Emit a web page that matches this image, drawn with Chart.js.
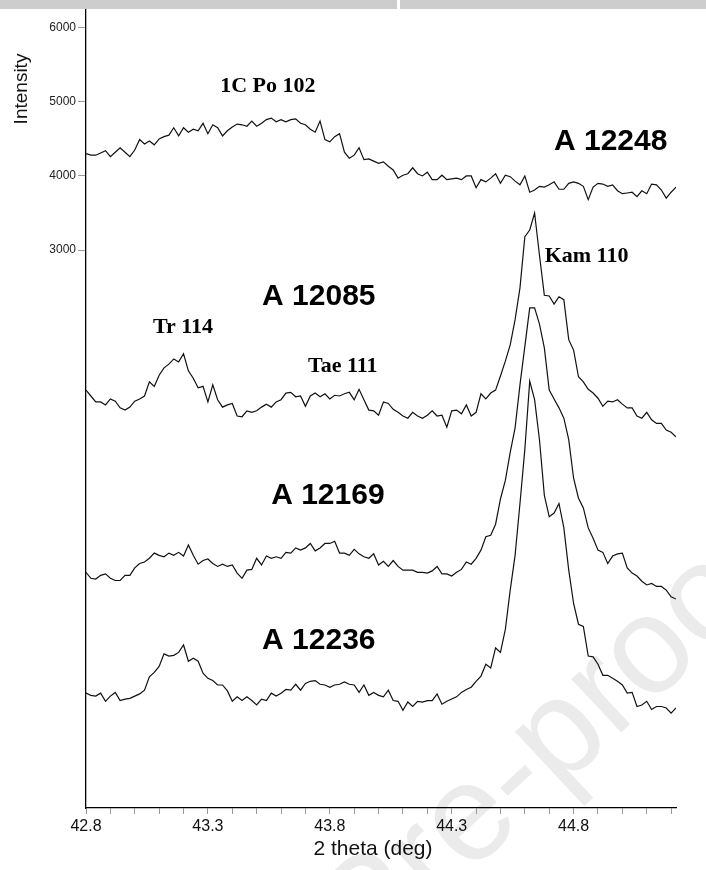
<!DOCTYPE html>
<html>
<head>
<meta charset="utf-8">
<title>XRD 2 theta</title>
<script src="https://cdn.jsdelivr.net/npm/chart.js@4.4.1/dist/chart.umd.min.js"></script>
<style>
  html, body { margin: 0; padding: 0; background: #fff; }
  #wrap { position: relative; width: 706px; height: 870px; overflow: hidden; }
  .bar { position: absolute; top: 0; height: 9px; background: #cdcdcd; }
  #watermark {
    position: absolute; left: 335px; top: 855px; width: 600px;
    font: 138px "Liberation Sans", Arial, sans-serif; color: #ebebeb;
    white-space: nowrap; transform: rotate(-43deg); transform-origin: 0 50%;
  }
  canvas { position: absolute; left: 0; top: 0; }
</style>
</head>
<body>
<div id="wrap">
  <div class="bar" style="left:0;width:397px"></div>
  <div class="bar" style="left:400px;width:306px"></div>
  <div id="watermark">Pre-proof</div>
  <canvas id="xrdChart" width="706" height="870"></canvas>
</div>
<script>
// 2 theta grid: 42.80 ... 45.22 deg, one step every 0.02 deg
const thetaStart = 42.8;
const thetaStep = 0.02;

// Intensities (offset for stacking), one value per grid step
const a12248 = [
  4300,4280,4280,4310,4340,4260,4320,4380,4320,4260,
  4350,4490,4430,4470,4420,4500,4530,4550,4650,4540,
  4650,4590,4630,4610,4710,4570,4690,4650,4540,4610,
  4660,4700,4690,4670,4740,4670,4710,4760,4780,4730,
  4760,4730,4760,4770,4710,4690,4630,4590,4740,4490,
  4460,4530,4570,4320,4240,4280,4380,4220,4230,4200,
  4170,4190,4130,4080,3970,4010,4030,4110,4030,4000,
  4050,3950,3950,4010,3950,3960,3970,3950,4000,4000,
  3840,3950,3920,3970,4030,3900,4010,3990,3930,3880,
  4000,3780,3810,3860,3850,3880,3920,3820,3820,3900,
  3920,3900,3860,3680,3850,3900,3890,3860,3880,3800,
  3760,3770,3780,3720,3800,3760,3890,3880,3810,3700,
  3780,3850
];

const a12085 = [
  1110,1030,950,950,910,990,960,870,840,880,
  960,990,1030,1220,1160,1310,1410,1460,1530,1490,
  1600,1370,1270,1140,1160,950,1180,980,880,910,
  930,760,750,830,810,830,880,920,880,950,
  980,1070,1080,1020,1030,890,1030,1070,1020,1060,
  990,1040,1030,1060,1080,980,1120,980,840,830,
  770,950,930,850,810,760,730,810,760,730,
  770,830,760,770,610,830,840,790,910,760,
  810,1060,990,1070,1110,1300,1500,1720,2060,2490,
  3180,3270,3500,2930,2390,2380,2270,2370,2330,1790,
  1650,1290,1220,1120,1070,1000,890,960,950,980,
  920,870,870,760,730,810,710,660,660,570,
  540,480
];

const a12169 = [
  -1350,-1430,-1440,-1390,-1370,-1430,-1460,-1460,-1390,-1390,
  -1290,-1230,-1210,-1160,-1090,-1120,-1140,-1090,-1120,-1080,
  -1130,-980,-1120,-1240,-1190,-1170,-1230,-1270,-1240,-1270,
  -1250,-1360,-1430,-1320,-1310,-1160,-1250,-1130,-1160,-1140,
  -1160,-1080,-1090,-1020,-1050,-1020,-960,-1060,-1020,-960,
  -960,-930,-1090,-1090,-1120,-1040,-1100,-1140,-1160,-1100,
  -1250,-1200,-1270,-1190,-1270,-1320,-1320,-1320,-1350,-1350,
  -1360,-1330,-1270,-1370,-1370,-1400,-1350,-1310,-1210,-1240,
  -1160,-1050,-870,-850,-700,-360,-110,270,600,1180,
  1700,2220,2220,2000,1680,1110,990,870,730,440,
  -80,-350,-480,-750,-890,-1050,-1080,-1230,-1130,-1100,
  -1090,-1290,-1360,-1400,-1470,-1520,-1500,-1540,-1540,-1590,
  -1680,-1710
];

const a12236 = [
  -2980,-3010,-3020,-2980,-3090,-3020,-2970,-3080,-3060,-3050,
  -3020,-2990,-2940,-2760,-2700,-2620,-2450,-2480,-2470,-2430,
  -2330,-2550,-2510,-2550,-2710,-2780,-2810,-2870,-2870,-2950,
  -3090,-3030,-3080,-3030,-3080,-3140,-3060,-3080,-2980,-3020,
  -2980,-2930,-2940,-2860,-2940,-2850,-2820,-2810,-2860,-2870,
  -2900,-2870,-2860,-2830,-2860,-2870,-2970,-2870,-3010,-2970,
  -3010,-3030,-2940,-3080,-3090,-3210,-3100,-3160,-3090,-3100,
  -3080,-3080,-2990,-3130,-3090,-3060,-3030,-2970,-2930,-2900,
  -2820,-2750,-2590,-2640,-2370,-2430,-2120,-1590,-1120,-420,
  310,1230,980,440,-310,-600,-550,-420,-750,-1320,
  -1770,-2050,-2080,-2480,-2490,-2590,-2740,-2740,-2780,-2820,
  -2870,-2980,-2970,-3160,-3140,-3090,-3200,-3160,-3160,-3180,
  -3250,-3180
];

// Tick values on the intensity axis
const intensityTicks = [3000, 4000, 5000, 6000];

// Text placed on the plot (theta, intensity)
const sampleLabels = [
  { text: "A 12248", theta: 44.952, value: 4460 },
  { text: "A 12085", theta: 43.755, value: 2370 },
  { text: "A 12169", theta: 43.792, value: -310 },
  { text: "A 12236", theta: 43.755, value: -2270 }
];
const peakLabels = [
  { text: "1C Po 102", theta: 43.546, value: 5210 },
  { text: "Tr 114", theta: 43.198, value: 1960 },
  { text: "Tae 111", theta: 43.853, value: 1430 },
  { text: "Kam 110", theta: 44.853, value: 2910 }
];

// Builds {x, y} points for one pattern
function toPoints(values) {
  return values.map((v, i) => ({ x: +(thetaStart + i * thetaStep).toFixed(2), y: v }));
}

function patternDataset(name, values) {
  return {
    label: name,
    data: toPoints(values),
    borderColor: "#111",
    borderWidth: 1.2,
    pointRadius: 0,
    tension: 0,
    fill: false
  };
}

// Draws the sample names, peak names and axis titles
const textPlugin = {
  id: "xrdText",
  afterDatasetsDraw(chart) {
    const ctx = chart.ctx;
    const xs = chart.scales.x;
    const ys = chart.scales.y;
    ctx.save();
    ctx.fillStyle = "#000";
    ctx.textAlign = "center";
    ctx.textBaseline = "middle";

    ctx.font = "bold 30px 'Liberation Sans', Arial, sans-serif";
    sampleLabels.forEach(l => {
      ctx.fillText(l.text, xs.getPixelForValue(l.theta), ys.getPixelForValue(l.value));
    });

    ctx.font = "bold 22px 'Liberation Serif', 'Times New Roman', serif";
    peakLabels.forEach(l => {
      ctx.fillText(l.text, xs.getPixelForValue(l.theta), ys.getPixelForValue(l.value));
    });

    // axis titles
    ctx.fillStyle = "#111";
    ctx.font = "21px 'Liberation Sans', Arial, sans-serif";
    ctx.fillText("2 theta (deg)", 373, 849);

    ctx.font = "19px 'Liberation Sans', Arial, sans-serif";
    ctx.translate(22, 89);
    ctx.rotate(-Math.PI / 2);
    ctx.fillText("Intensity", 0, 0);
    ctx.restore();
  }
};

const ctx = document.getElementById("xrdChart");
new Chart(ctx, {
  type: "line",
  data: {
    datasets: [
      patternDataset("A 12248", a12248),
      patternDataset("A 12085", a12085),
      patternDataset("A 12169", a12169),
      patternDataset("A 12236", a12236)
    ]
  },
  options: {
    responsive: false,
    animation: false,
    layout: { padding: { top: 9, right: 30, bottom: 0, left: 0 } },
    plugins: {
      legend: { display: false },
      tooltip: { enabled: false }
    },
    scales: {
      x: {
        type: "linear",
        min: 42.8,
        max: 45.22,
        afterFit: s => { s.height = 62; },
        afterBuildTicks: s => {
          const t = [];
          for (let k = 0; k <= 24; k++) t.push({ value: +(42.8 + k * 0.1).toFixed(1) });
          s.ticks = t;
        },
        grid: { drawOnChartArea: false, drawTicks: true, tickLength: 6, color: "#9a9a9a" },
        border: { display: true, color: "#000", width: 1.3 },
        ticks: {
          autoSkip: false,
          maxRotation: 0,
          padding: 3,
          color: "#111",
          font: { family: "'Liberation Sans', Arial, sans-serif", size: 16 },
          callback: (value, index) => (index % 5 === 0 ? value.toFixed(1) : "")
        }
      },
      y: {
        type: "linear",
        min: -4530,
        max: 6250,
        afterFit: s => { s.width = 86; },
        afterBuildTicks: s => { s.ticks = intensityTicks.map(v => ({ value: v })); },
        grid: { drawOnChartArea: false, drawTicks: true, tickLength: 8, color: "#9a9a9a" },
        border: { display: true, color: "#000", width: 1.3 },
        ticks: {
          padding: 2,
          color: "#222",
          font: { family: "'Liberation Sans', Arial, sans-serif", size: 12 },
          callback: value => String(value)
        }
      }
    }
  },
  plugins: [textPlugin]
});
</script>
</body>
</html>
